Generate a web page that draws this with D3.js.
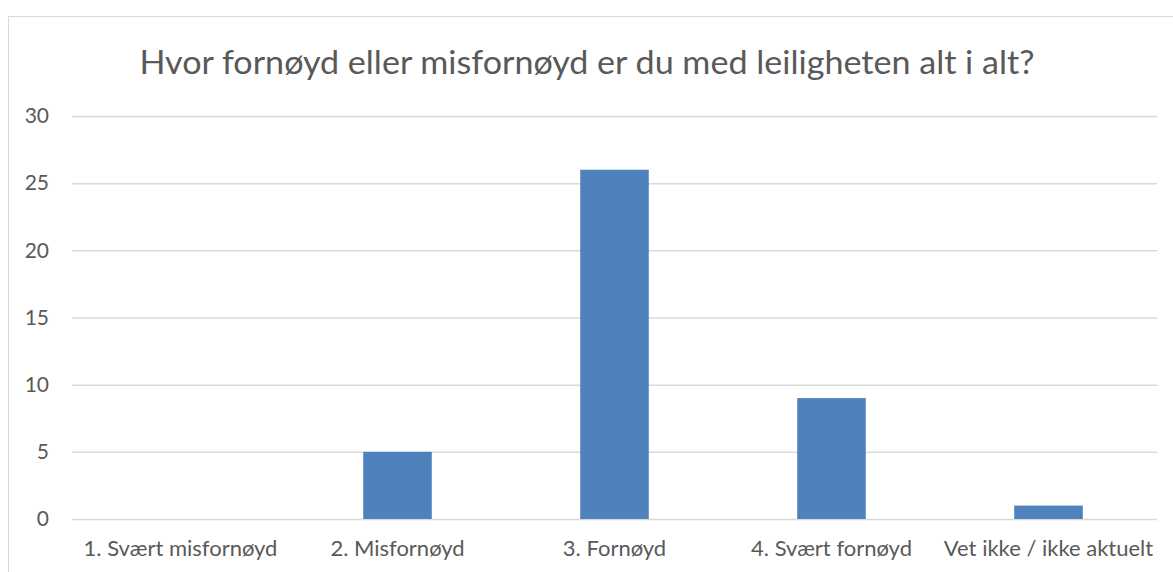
<!DOCTYPE html>
<html><head><meta charset="utf-8">
<script src="https://cdn.jsdelivr.net/npm/d3@7"></script>
<style>body{margin:0;background:#fff}svg{display:block}text{font-family:Lato,"Open Sans",sans-serif;fill:#595959}</style>
</head><body><svg id="c" width="1173" height="572"></svg>
<script>
const title = "Hvor fornøyd eller misfornøyd er du med leiligheten alt i alt?";
const categories = ["1. Svært misfornøyd","2. Misfornøyd","3. Fornøyd","4. Svært fornøyd","Vet ikke / ikke aktuelt"];
const values = [0,5,26,9,1];
const yTicks = [0,5,10,15,20,25,30];

const svg = d3.select("#c");
svg.append("rect").attr("x",8.5).attr("y",16.5).attr("width",1200).attr("height",600)
  .attr("fill","#fff").attr("stroke","#d9d9d9").attr("stroke-width",1);

const m = {l:72, r:1157, t:116, b:519};
const x = d3.scaleBand().domain(categories).range([m.l,m.r]).paddingInner(0.684).paddingOuter(0.342);
const y = d3.scaleLinear().domain([0,30]).range([m.b,m.t]);

svg.append("text").attr("x",587).attr("y",74).attr("text-anchor","middle")
  .attr("font-size",33).attr("textLength",895).attr("lengthAdjust","spacingAndGlyphs").text(title);

const ya = svg.append("g").attr("transform",`translate(${m.l},0)`)
  .call(d3.axisLeft(y).tickValues(yTicks).tickSize(-(m.r-m.l)).tickPadding(23));
ya.select(".domain").remove();
ya.selectAll(".tick line").attr("stroke","#d9d9d9").attr("stroke-width",1.5);
ya.selectAll(".tick text").attr("font-size",21).attr("fill","#595959").style("font-family","Lato");

svg.append("g").selectAll("rect").data(values).join("rect")
  .attr("x",(d,i)=>x(categories[i])).attr("width",x.bandwidth())
  .attr("y",d=>y(d)).attr("height",d=>y(0)-y(d)).attr("fill","#4f81bd");

const xa = svg.append("g").attr("transform",`translate(0,${m.b})`)
  .call(d3.axisBottom(x).tickSize(0).tickPadding(21));
xa.select(".domain").remove();
xa.selectAll(".tick text").attr("font-size",22).attr("fill","#595959").style("font-family","Lato");
</script></body></html>
